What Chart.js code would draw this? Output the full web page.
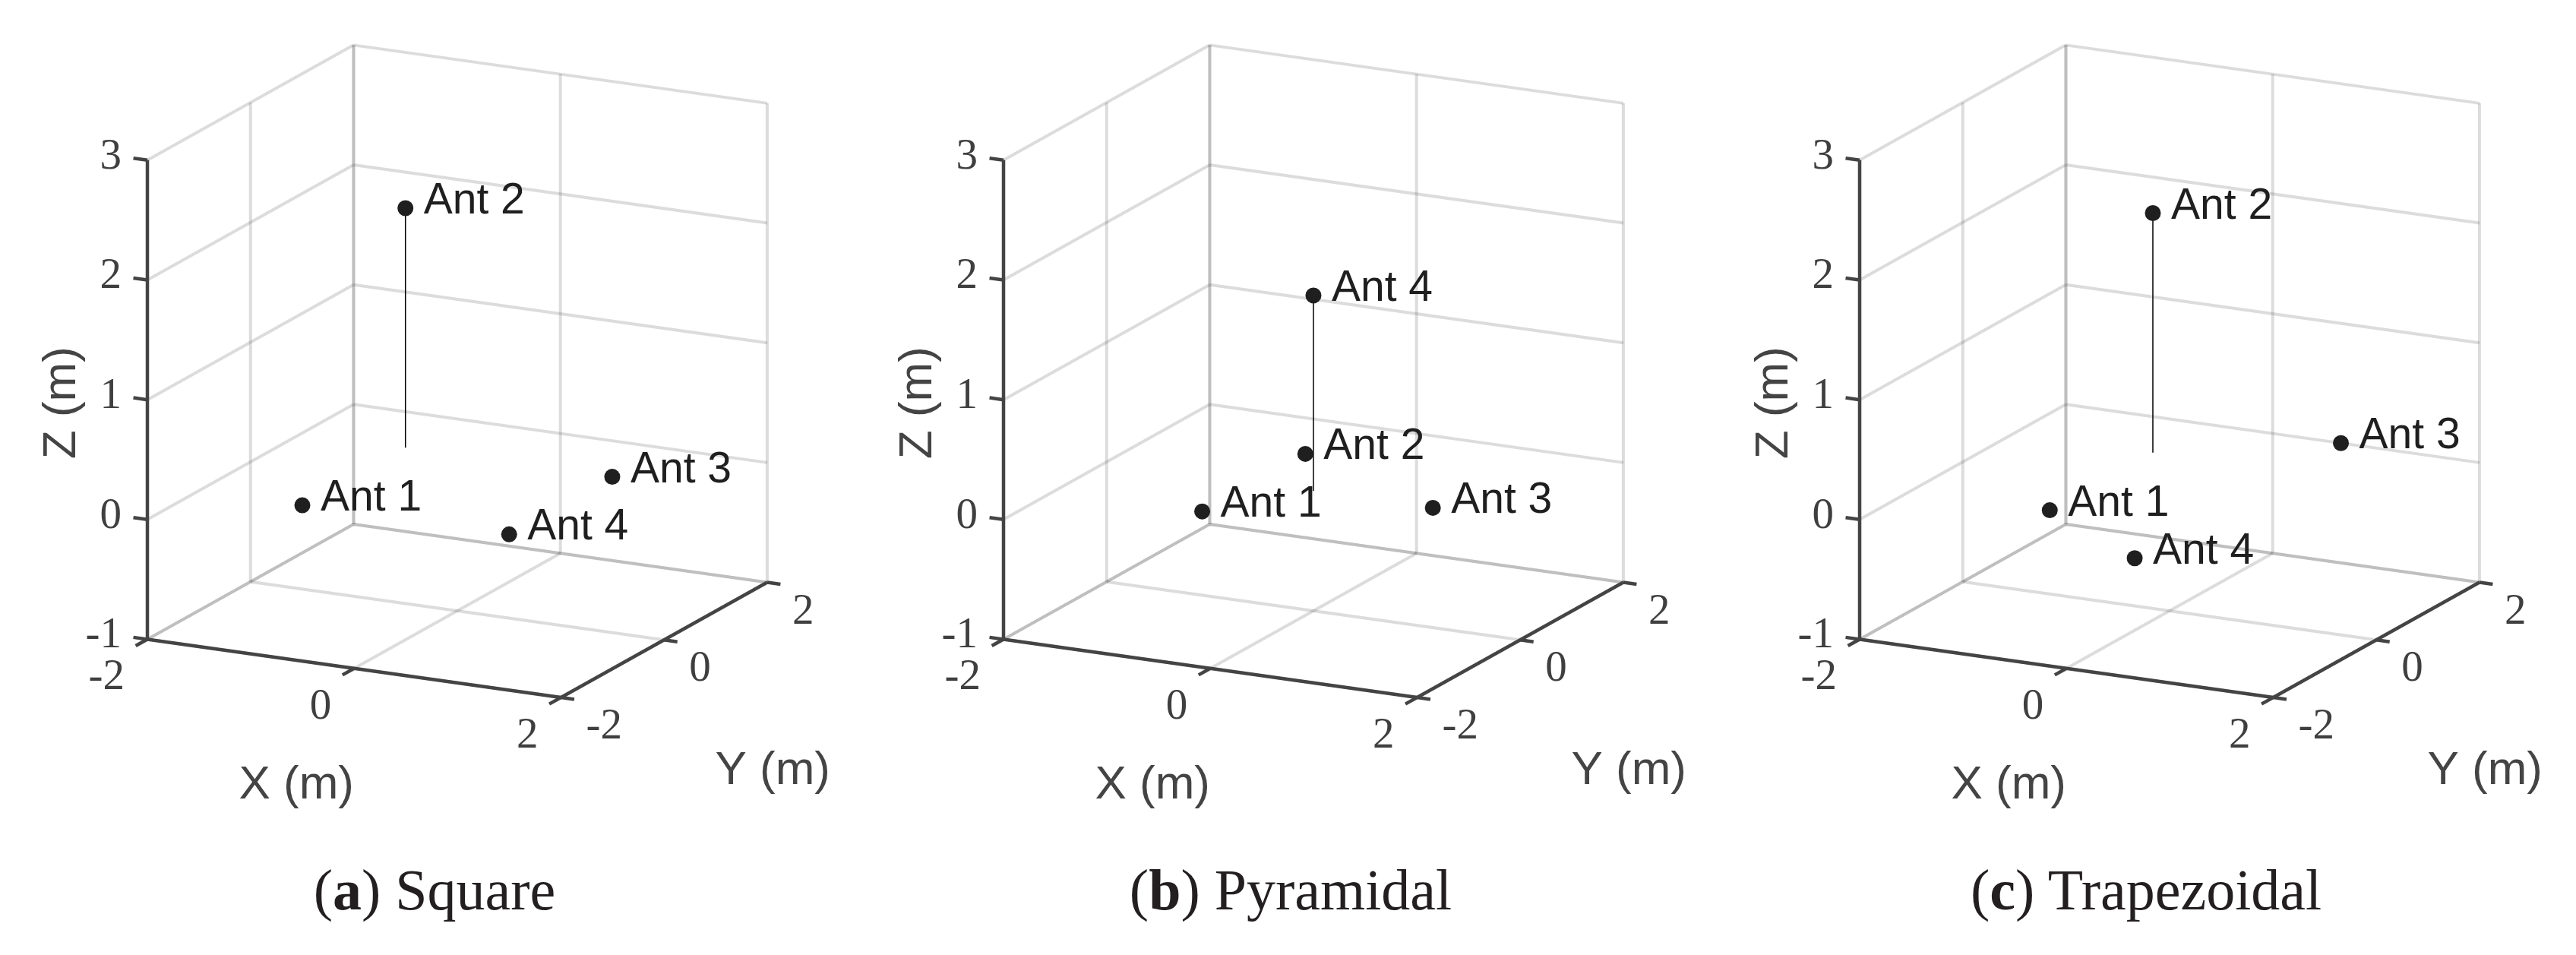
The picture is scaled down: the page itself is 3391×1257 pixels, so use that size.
<!DOCTYPE html>
<html>
<head>
<meta charset="utf-8">
<script src="https://cdn.jsdelivr.net/npm/chart.js@4.4.1/dist/chart.umd.min.js"></script>
<style>
	body { margin: 0; background: #fff; width: 3391px; height: 1257px; overflow: hidden; position: relative; }
	canvas { position: absolute; top: 0; }
	.cap { position: absolute; top: 1133px; width: 800px; margin-left: -400px; text-align: center;
		font: 76px/76px "Liberation Serif", serif; color: #231f20; white-space: nowrap; }
</style>
</head>
<body>
<canvas id="chartA" width="1127" height="1110" style="left:0px"></canvas>
<canvas id="chartB" width="1127" height="1110" style="left:1127px"></canvas>
<canvas id="chartC" width="1127" height="1110" style="left:2254px"></canvas>
<div class="cap" style="left:572px">(<b>a</b>) Square</div>
<div class="cap" style="left:1699px">(<b>b</b>) Pyramidal</div>
<div class="cap" style="left:2825px">(<b>c</b>) Trapezoidal</div>
<script>
// antenna positions (m)
var antLabels = ['Ant 1', 'Ant 2', 'Ant 3', 'Ant 4'];

var squareX = [-1, -1, 1, 1];
var squareY = [-1, 1, 1, -1];
var squareZ = [0, 2, 0, 0];

var pyramidX = [-0.577, -0.577, 1.155, 0];
var pyramidY = [-1, 1, 0, 0];
var pyramidZ = [0, 0, 0, 1.633];

var trapX = [-0.66, -0.66, 0.66, 0.66];
var trapY = [-1, 1, 2, -2];
var trapZ = [0, 2, 0, 0];

// which antenna sits on a mast (line down to z = 0)
var mastAnt = [1, 3, 1];

// axes
var xTicks = [-2, 0, 2];
var yTicks = [-2, 0, 2];
var zTicks = [-1, 0, 1, 2, 3];
var xLim = [-2, 2], yLim = [-2, 2], zLim = [-1, 3];

// 3d view: screen size of one metre along each axis (u right, v up)
var view = { ex: [138.7, -19.5], ey: [69.15, 38.6], ez: [0, 160.7] };
function proj(x, y, z) {
	return {
		x: x * view.ex[0] + y * view.ey[0] + z * view.ez[0],
		y: x * view.ex[1] + y * view.ey[1] + z * view.ez[1]
	};
}
function unit(v, s) {
	var n = Math.sqrt(v[0] * v[0] + v[1] * v[1]);
	return [s * v[0] / n, s * v[1] / n];
}

var GRID = 'rgba(38,38,38,0.16)';
var AXIS = '#444';
var INK = '#1f1f1f';

function seg(a, b, color, width) {
	return {
		data: [a, b], showLine: true, borderColor: color, borderWidth: width,
		pointRadius: 0, pointHoverRadius: 0, fill: false, clip: false
	};
}
function line3(a, b, color, width) {
	return seg(proj(a[0], a[1], a[2]), proj(b[0], b[1], b[2]), color, width);
}
function tick(p3, dir, len) {
	var p = proj(p3[0], p3[1], p3[2]);
	var d = unit(dir, len);
	return seg(p, { x: p.x + d[0], y: p.y + d[1] }, AXIS, 4.5);
}

function buildDatasets(xs, ys, zs, mast) {
	var sets = [];
	// antennas on top
	sets.push({
		data: xs.map(function (x, i) { return proj(x, ys[i], zs[i]); }),
		pointRadius: 10.5, pointHoverRadius: 10.5, pointBackgroundColor: INK,
		pointBorderWidth: 0, showLine: false, clip: false
	});
	// mast
	sets.push(line3([xs[mast], ys[mast], 0], [xs[mast], ys[mast], zs[mast]], '#000', 1.5));
	// axes and ticks
	sets.push(line3([xLim[0], yLim[0], zLim[0]], [xLim[1], yLim[0], zLim[0]], AXIS, 4.5));
	sets.push(line3([xLim[1], yLim[0], zLim[0]], [xLim[1], yLim[1], zLim[0]], AXIS, 4.5));
	sets.push(line3([xLim[0], yLim[0], zLim[0]], [xLim[0], yLim[0], zLim[1]], AXIS, 4.5));
	xTicks.forEach(function (t) { sets.push(tick([t, yLim[0], zLim[0]], [-view.ey[0], -view.ey[1]], 18)); });
	yTicks.forEach(function (t) { sets.push(tick([xLim[1], t, zLim[0]], view.ex, 18)); });
	zTicks.forEach(function (t) { sets.push(tick([xLim[0], yLim[0], t], [-view.ex[0], -view.ex[1]], 19)); });
	// grid: floor, left wall, back wall
	xTicks.forEach(function (t) { sets.push(line3([t, yLim[0], zLim[0]], [t, yLim[1], zLim[0]], GRID, 4)); });
	yTicks.forEach(function (t) { sets.push(line3([xLim[0], t, zLim[0]], [xLim[1], t, zLim[0]], GRID, 4)); });
	yTicks.forEach(function (t) { sets.push(line3([xLim[0], t, zLim[0]], [xLim[0], t, zLim[1]], GRID, 4)); });
	zTicks.forEach(function (t) { sets.push(line3([xLim[0], yLim[0], t], [xLim[0], yLim[1], t], GRID, 4)); });
	xTicks.forEach(function (t) { sets.push(line3([t, yLim[1], zLim[0]], [t, yLim[1], zLim[1]], GRID, 4)); });
	zTicks.forEach(function (t) { sets.push(line3([xLim[0], yLim[1], t], [xLim[1], yLim[1], t], GRID, 4)); });
	return sets;
}

var axesText = {
	id: 'axesText',
	afterDatasetsDraw: function (chart) {
		var ctx = chart.ctx, sx = chart.scales.x, sy = chart.scales.y;
		function px(p) { return [sx.getPixelForValue(p.x), sy.getPixelForValue(p.y)]; }
		ctx.save();
		ctx.textBaseline = 'alphabetic';

		// tick labels
		ctx.fillStyle = '#3f3f3f';
		ctx.font = '57px "Liberation Serif", serif';
		ctx.textAlign = 'right';
		zTicks.forEach(function (t) {
			var p = px(proj(xLim[0], yLim[0], t));
			ctx.fillText(String(t), p[0] - 34, p[1] + 11);
		});
		xTicks.forEach(function (t) {
			var p = px(proj(t, yLim[0], zLim[0]));
			ctx.fillText(String(t), p[0] - 30, p[1] + 66);
		});
		ctx.textAlign = 'left';
		yTicks.forEach(function (t) {
			var p = px(proj(xLim[1], t, zLim[0]));
			ctx.fillText(String(t), p[0] + 33, p[1] + 54);
		});

		// axis titles
		ctx.fillStyle = '#444';
		ctx.font = '62px "Liberation Sans", Arial, sans-serif';
		ctx.textAlign = 'center';
		var xm = px(proj((xLim[0] + xLim[1]) / 2, yLim[0], zLim[0]));
		ctx.fillText('X (m)', xm[0] - 76, xm[1] + 171);
		var ym = px(proj(xLim[1], (yLim[0] + yLim[1]) / 2, zLim[0]));
		ctx.fillText('Y (m)', ym[0] + 143, ym[1] + 190);
		var zm = px(proj(xLim[0], yLim[0], (zLim[0] + zLim[1]) / 2));
		ctx.save();
		ctx.translate(zm[0] - 95, zm[1] + 4);
		ctx.rotate(-Math.PI / 2);
		ctx.fillText('Z (m)', 0, 0);
		ctx.restore();

		// antenna names
		ctx.fillStyle = INK;
		ctx.font = '57px "Liberation Sans", Arial, sans-serif';
		ctx.textAlign = 'left';
		chart.data.datasets[0].data.forEach(function (p, i) {
			var q = px(p);
			ctx.fillText(antLabels[i], q[0] + 24, q[1] + 7);
		});
		ctx.restore();
	}
};

function makeChart(id, xs, ys, zs, mast) {
	var canvas = document.getElementById(id);
	// origin (0,0,0) position inside the canvas
	var ox = 602.7, oy = 648.1;
	new Chart(canvas.getContext('2d'), {
		type: 'scatter',
		data: { datasets: buildDatasets(xs, ys, zs, mast) },
		options: {
			responsive: false,
			animation: false,
			devicePixelRatio: 1,
			events: [],
			layout: { padding: 0 },
			plugins: { legend: { display: false }, tooltip: { enabled: false } },
			scales: {
				x: { type: 'linear', display: false, min: -ox, max: canvas.width - ox },
				y: { type: 'linear', display: false, min: oy - canvas.height, max: oy }
			}
		},
		plugins: [axesText]
	});
}

makeChart('chartA', squareX, squareY, squareZ, mastAnt[0]);
makeChart('chartB', pyramidX, pyramidY, pyramidZ, mastAnt[1]);
makeChart('chartC', trapX, trapY, trapZ, mastAnt[2]);
</script>
</body>
</html>
